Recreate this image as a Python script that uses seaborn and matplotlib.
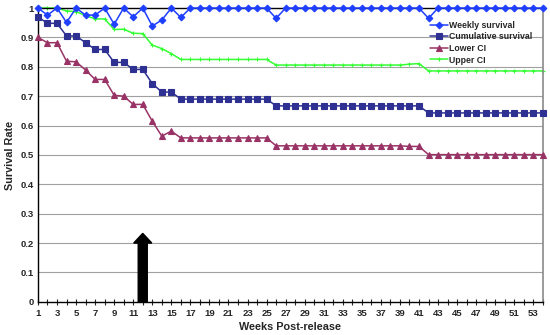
import numpy as np
import pandas as pd
import matplotlib
matplotlib.use("Agg")
import matplotlib.pyplot as plt
import seaborn as sns

# -------------------------------
# Data
# -------------------------------
weeks = list(range(1, 55))

weekly_survival = ([1.0, 0.976, 1.0, 0.951, 1.0, 0.976, 0.976, 1.0, 0.945, 1.0,
                    0.970, 1.0, 0.939, 0.959, 1.0, 0.968]
                   + [1.0] * 9 + [0.965] + [1.0] * 15 + [0.965] + [1.0] * 12)

cumulative_survival = ([0.970, 0.948, 0.948, 0.905, 0.905, 0.882, 0.859, 0.859,
                        0.815, 0.815, 0.791, 0.791, 0.743, 0.714, 0.714]
                       + [0.690] * 10 + [0.667] * 16 + [0.643] * 13)

lower_ci = ([0.900, 0.882, 0.882, 0.819, 0.817, 0.789, 0.757, 0.757, 0.703, 0.700,
             0.672, 0.672, 0.615, 0.564, 0.581]
            + [0.558] * 10 + [0.531] * 14 + [0.529] * 2 + [0.501] * 13)

upper_ci = ([1.0, 1.0, 1.0, 0.990, 0.988, 0.974, 0.963, 0.963, 0.927, 0.928,
             0.914, 0.913, 0.874, 0.862, 0.845]
            + [0.825] * 10 + [0.806] * 14 + [0.809, 0.811] + [0.786] * 13)

series_names = ["Weekly survival", "Cumulative survival", "Lower CI", "Upper CI"]
series_values = [weekly_survival, cumulative_survival, lower_ci, upper_ci]
series_colors = ["#1f3fff", "#2e3192", "#993366", "#33ff33"]
series_markers = ["D", "s", "^", "+"]
series_msize = [3.4, 3.8, 4.0, 3.0]
# upper CI sits below the black top border, like the original
series_z = [6, 5, 4, 2]

release_week = 12
arrow_top = 0.233

y_ticks = [round(v, 1) for v in np.arange(0, 1.01, 0.1)]
y_labels = ["0"] + [f"{v:.1f}" for v in y_ticks[1:-1]] + ["1"]
x_label_weeks = list(range(1, 54, 2))

# -------------------------------
# Plot
# -------------------------------
sns.set_style("white")
plt.rcParams["font.family"] = ["Liberation Sans", "DejaVu Sans"]
plt.rcParams["font.weight"] = "bold"

fig, ax = plt.subplots(figsize=(5.5, 3.35), dpi=100)
fig.subplots_adjust(left=0.069, right=0.987, top=0.976, bottom=0.099)

for name, vals, col, mk, ms, z in zip(series_names, series_values, series_colors,
                                      series_markers, series_msize, series_z):
    sns.lineplot(x=weeks, y=vals, ax=ax, color=col, marker=mk, markersize=ms,
                 markeredgecolor=col, markeredgewidth=0.8, linewidth=1.1,
                 label=name, zorder=z, clip_on=False)

# horizontal gridlines
for yv in y_ticks[1:-1]:
    ax.axhline(yv, color="#a0a0a0", linewidth=0.8, zorder=1)

# release arrow
ax.arrow(release_week, 0, 0, arrow_top, width=0.95, head_width=1.9,
         head_length=0.033, length_includes_head=True, color="black", zorder=7)

ax.set_xlim(1, 54)
ax.set_ylim(0, 1)
ax.set_xticks(weeks)
ax.set_xticklabels([str(w) if w in x_label_weeks else "" for w in weeks])
ax.set_yticks(y_ticks)
ax.set_yticklabels(y_labels)
ax.tick_params(axis="x", direction="inout", length=4, width=0.8, pad=3,
               labelsize=6.8, bottom=True)
ax.tick_params(axis="y", length=0, pad=3, labelsize=6.8)
for lab in ax.get_xticklabels() + ax.get_yticklabels():
    lab.set_fontweight("bold")

ax.set_xlabel("Weeks Post-release", fontsize=7.8, fontweight="bold", labelpad=3)
ax.set_ylabel("Survival Rate", fontsize=7.8, fontweight="bold", labelpad=4)

for side in ["left", "bottom", "top"]:
    ax.spines[side].set_color("black")
    ax.spines[side].set_linewidth(1.0)
ax.spines["right"].set_color("#8a8a8a")
ax.spines["right"].set_linewidth(1.2)

leg = ax.legend(loc="upper right", bbox_to_anchor=(0.99, 0.975), frameon=False,
                fontsize=6.3, handlelength=2.0, handletextpad=0.2,
                labelspacing=0.3, borderaxespad=0.2)
leg.set_zorder(8)
for t in leg.get_texts():
    t.set_fontweight("bold")

plt.savefig("out.png", dpi=100)
plt.close()
